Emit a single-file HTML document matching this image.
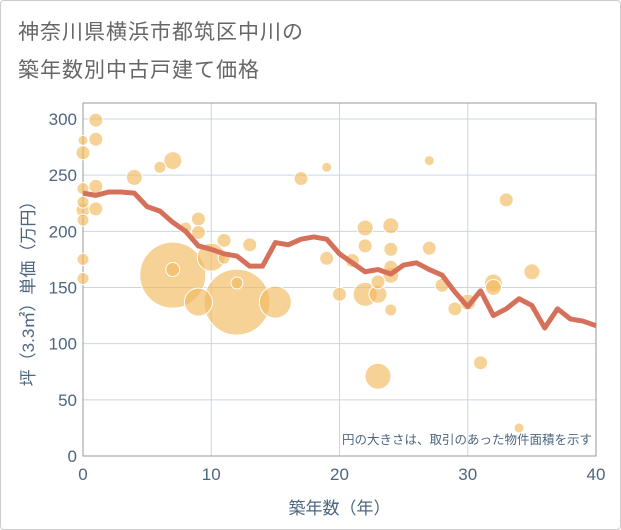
<!DOCTYPE html>
<html><head><meta charset="utf-8"><style>
body{margin:0;background:#fff;}
#wrap{position:relative;width:619px;height:528px;border:1px solid #ccc;border-radius:4px;overflow:hidden;background:#fff;}
.t{position:absolute;left:17px;font-family:"Liberation Sans","Noto Sans CJK JP",sans-serif;font-size:21px;color:#666;letter-spacing:1px;}
svg text{font-family:"Liberation Sans","Noto Sans CJK JP",sans-serif;fill:#4d6680;}
</style></head><body>
<div id="wrap">
<div class="t" style="top:15px">神奈川県横浜市都筑区中川の</div>
<div class="t" style="top:53px">築年数別中古戸建て価格</div>
<svg id="c" width="621" height="530" style="position:absolute;left:-1px;top:-1px"></svg>
</div>
<script>
const lineYears=[0,1,2,3,4,5,6,7,8,9,10,11,12,13,14,15,16,17,18,19,20,21,22,23,24,25,26,27,28,29,30,31,32,33,34,35,36,37,38,39,40];
const lineValues=[234,232,235,235,234,222,218,208,200,187,184,180,178,169,169,190,188,193,195,193,180,172,164,166,162,170,172,166,161,146,133,147,125,131,140,134,114,131,122,120,116];
const bubbleYears=[0,0,0,0,0,0,0,0,1,1,1,1,4,6,7,7,7,8,9,9,9,10,11,11,12,12,13,15,17,19,19,20,21,22,22,22,23,23,23,24,24,24,24,24,27,27,28,29,30,31,32,32,33,34,35];
const bubbleValues=[281,270,238,226,219,210,175,158,299,282,240,220,248,257,263,161,166,203,211,199,137,177,192,176,137,154,188,137,247,257,176,144,174,203,187,144,155,144,71,205,184,168,161,130,263,185,152,131,137,83,154,150,228,25,164];
const bubbleSizes=[5,7,6,6,7,6,6,6,7,7,7,7,8,6,9,33,7,6,7,7,14,14,7,6,33,6,7,16,7,5,7,7,7,8,7,12,7,9,13,8,7,7,8,6,5,7,7,7,8,7,9,8,7,5,8];
const xTicks=[0,10,20,30,40];
const yTicks=[0,50,100,150,200,250,300];
const L=83,R=596,T=103,B=456;
const xs=v=>L+v*(R-L)/40;
const ys=v=>B-v*(B-119)/300;
const svg=document.getElementById('c');
const NS='http://www.w3.org/2000/svg';
function mk(tag,attrs){const e=document.createElementNS(NS,tag);for(const k in attrs)e.setAttribute(k,attrs[k]);svg.appendChild(e);return e;}
yTicks.forEach(v=>{
 const g=mk('line',{x1:L,x2:R,y1:ys(v),y2:ys(v),stroke:'#c8d6e6','stroke-width':1});
 
 
 const t=mk('text',{x:L-6,y:ys(v)+6,'text-anchor':'end','font-size':17});
 t.textContent=v;
 
 
});
xTicks.forEach(v=>{
 const g=mk('line',{x1:xs(v),x2:xs(v),y1:T,y2:B,stroke:'#c8d6e6','stroke-width':1});
 
 
 const t=mk('text',{x:xs(v),y:B+24,'text-anchor':'middle','font-size':17});
 t.textContent=v;
 
 
});
const fr=mk('rect',{x:L,y:T,width:R-L,height:B-T,fill:'none',stroke:'#999','stroke-width':1});


const order=bubbleSizes.map((s,i)=>i).sort((a,b)=>bubbleSizes[b]-bubbleSizes[a]);
order.forEach(i=>{
 const c=mk('circle',{cx:xs(bubbleYears[i]),cy:ys(bubbleValues[i]),r:bubbleSizes[i],fill:'rgba(242,186,95,0.65)',stroke:'#fff','stroke-width':1});
 
 
});
const p=mk('polyline',{points:lineYears.map((x,i)=>xs(x)+','+ys(lineValues[i])).join(' '),fill:'none',stroke:'#d5705a','stroke-width':5,'stroke-linejoin':'round'});


const note=mk('text',{x:592,y:444,'text-anchor':'end','font-size':12.5});
note.textContent='円の大きさは、取引のあった物件面積を示す';


const xt=mk('text',{x:(L+R)/2,y:514,'text-anchor':'middle','font-size':17});
xt.textContent='築年数（年）';


const yt=mk('text',{x:0,y:0,'text-anchor':'middle','font-size':17,transform:'translate(34,'+((T+B)/2+10)+') rotate(-90)'});
yt.textContent='坪（3.3㎡）単価（万円）';


</script>
</body></html>
